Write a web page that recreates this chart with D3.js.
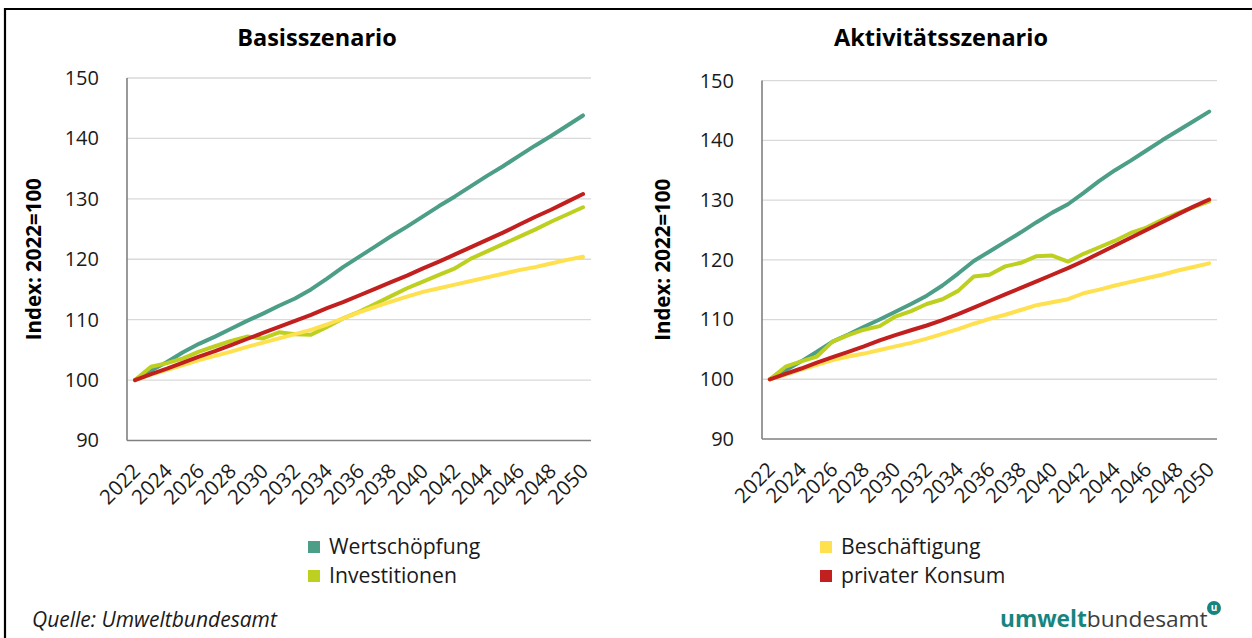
<!DOCTYPE html>
<html>
<head>
<meta charset="utf-8">
<script src="https://cdn.jsdelivr.net/npm/d3@7"></script>
<style>
  html, body { margin: 0; padding: 0; background: #fff; }
  svg { display: block; font-family: "Open Sans", "Noto Sans", sans-serif; }
</style>
</head>
<body>
<svg id="chart" width="1252" height="638"></svg>
<script>
// ---------------- DATA ----------------
const years = ["2022","2023","2024","2025","2026","2027","2028","2029","2030","2031","2032","2033","2034","2035","2036","2037","2038","2039","2040","2041","2042","2043","2044","2045","2046","2047","2048","2049","2050"];
const xTickLabels = ["2022","2024","2026","2028","2030","2032","2034","2036","2038","2040","2042","2044","2046","2048","2050"];
const yTicks = [90, 100, 110, 120, 130, 140, 150];

const seriesNames = ["Wertschöpfung", "Investitionen", "Beschäftigung", "privater Konsum"];
const seriesColors = ["#4c9e87", "#bdd01f", "#ffe04e", "#c2201f"];

// Basisszenario
const basisWertschoepfung = [100,101.6,103.0,104.6,106.0,107.2,108.5,109.8,111.0,112.3,113.5,115.0,116.8,118.7,120.4,122.1,123.8,125.4,127.1,128.8,130.4,132.1,133.8,135.4,137.1,138.8,140.4,142.1,143.8];
const basisInvestitionen  = [100,102.2,102.8,103.6,104.7,105.6,106.5,107.2,106.9,107.9,107.6,107.5,108.8,110.2,111.3,112.6,113.9,115.2,116.3,117.4,118.5,120.1,121.3,122.5,123.7,124.9,126.2,127.4,128.6];
const basisBeschaeftigung = [100,100.9,101.7,102.5,103.3,104.0,104.7,105.5,106.2,106.9,107.6,108.3,109.2,110.2,111.2,112.1,113.0,113.8,114.6,115.2,115.8,116.4,117.0,117.6,118.2,118.7,119.3,119.9,120.4];
const basisKonsum         = [100,101.0,101.9,102.9,103.9,104.8,105.8,106.8,107.8,108.8,109.8,110.8,111.9,112.9,114.0,115.1,116.2,117.3,118.5,119.6,120.8,122.0,123.2,124.4,125.7,127.0,128.2,129.5,130.8];

// Aktivitätsszenario
const aktivWertschoepfung = [100,101.5,103.0,104.6,106.3,107.5,108.8,110.0,111.3,112.6,114.0,115.7,117.7,119.8,121.4,123.0,124.6,126.3,127.9,129.3,131.2,133.2,135.0,136.6,138.3,140.0,141.6,143.2,144.8];
const aktivInvestitionen  = [100,102.1,103.0,103.8,106.3,107.4,108.3,108.9,110.5,111.4,112.6,113.4,114.8,117.2,117.5,118.9,119.5,120.6,120.7,119.7,121.0,122.1,123.2,124.5,125.4,126.7,127.8,128.8,129.8];
const aktivBeschaeftigung = [100,100.8,101.6,102.4,103.2,103.8,104.3,104.9,105.5,106.1,106.8,107.6,108.4,109.3,110.1,110.8,111.6,112.4,112.9,113.4,114.4,115.0,115.7,116.3,116.9,117.5,118.2,118.8,119.4];
const aktivKonsum         = [100,100.9,101.8,102.8,103.7,104.6,105.5,106.5,107.4,108.2,109.0,109.9,110.9,112.0,113.1,114.2,115.3,116.4,117.5,118.6,119.8,121.1,122.4,123.7,125.0,126.3,127.6,128.9,130.1];

const panels = [
  { title: "Basisszenario", series: [basisWertschoepfung, basisInvestitionen, basisBeschaeftigung, basisKonsum],
    x0: 127, x1: 591, yTop: 78, yBottom: 440.5, titleX: 317, axisTitleX: 34 },
  { title: "Aktivitätsszenario", series: [aktivWertschoepfung, aktivInvestitionen, aktivBeschaeftigung, aktivKonsum],
    x0: 762, x1: 1217, yTop: 80.6, yBottom: 439, titleX: 941, axisTitleX: 663 }
];

// ---------------- DRAW ----------------
const svg = d3.select("#chart");

// frame
svg.append("path")
  .attr("d", "M5,640 L5,9 L1254,9")
  .attr("fill", "none").attr("stroke", "#000").attr("stroke-width", 2.2);

panels.forEach(p => {
  const g = svg.append("g");
  const x = d3.scaleBand().domain(years).range([p.x0, p.x1]).padding(0);
  const y = d3.scaleLinear().domain([90, 150]).range([p.yBottom, p.yTop]);
  const cx = d => x(d) + x.bandwidth() / 2;

  // title
  g.append("text").attr("x", p.titleX).attr("y", 46)
    .attr("text-anchor", "middle").attr("font-weight", 700).attr("font-size", 23.5)
    .attr("fill", "#000").text(p.title);

  // gridlines
  g.selectAll(".grid").data(yTicks.filter(t => t > 90)).enter().append("line")
    .attr("x1", p.x0).attr("x2", p.x1)
    .attr("y1", d => y(d)).attr("y2", d => y(d))
    .attr("stroke", "#d9d9d9").attr("stroke-width", 1.3);

  // y axis
  const yAxis = d3.axisLeft(y).tickValues(yTicks).tickSize(0).tickPadding(28);
  const ya = g.append("g").attr("transform", `translate(${p.x0},0)`).call(yAxis);
  ya.select(".domain").remove();
  ya.selectAll("text").attr("font-size", 20).attr("fill", "#1a1a1a")
    .attr("font-family", "'Open Sans', sans-serif");

  // x axis
  const xAxis = d3.axisBottom(x).tickValues(xTickLabels).tickSize(0);
  const xa = g.append("g").attr("transform", `translate(0,${p.yBottom})`).call(xAxis);
  xa.select(".domain").remove();
  xa.selectAll("text")
    .attr("font-size", 20.5).attr("fill", "#1a1a1a")
    .attr("font-family", "'Open Sans', sans-serif")
    .attr("text-anchor", "end")
    .attr("dy", null).attr("y", 0)
    .attr("transform", "translate(6.5,32) rotate(-45)");

  // axis lines
  g.append("line").attr("x1", p.x0).attr("x2", p.x0).attr("y1", p.yTop).attr("y2", p.yBottom)
    .attr("stroke", "#808080").attr("stroke-width", 1.6);
  g.append("line").attr("x1", p.x0).attr("x2", p.x1).attr("y1", p.yBottom).attr("y2", p.yBottom)
    .attr("stroke", "#808080").attr("stroke-width", 1.6);

  // axis title
  g.append("text")
    .attr("transform", `translate(${p.axisTitleX},${(p.yTop + p.yBottom) / 2}) rotate(-90)`)
    .attr("text-anchor", "middle").attr("dy", "0.35em")
    .attr("font-weight", 700).attr("font-size", 20.5).attr("fill", "#000")
    .text("Index: 2022=100");

  // lines
  const line = d3.line().x((d, i) => cx(years[i])).y(d => y(d));
  p.series.forEach((s, k) => {
    g.append("path").datum(s).attr("d", line)
      .attr("fill", "none").attr("stroke", seriesColors[k])
      .attr("stroke-width", 4).attr("stroke-linejoin", "round").attr("stroke-linecap", "round");
  });
});

// legend
const legendPos = [[308, 547], [308, 576], [820, 547], [820, 576]];
seriesNames.forEach((name, k) => {
  const [lx, ly] = legendPos[k];
  svg.append("rect").attr("x", lx).attr("y", ly - 6).attr("width", 12).attr("height", 12)
    .attr("fill", seriesColors[k]);
  svg.append("text").attr("x", lx + 21).attr("y", ly).attr("dy", "0.35em")
    .attr("font-size", 21.2).attr("fill", "#1a1a1a").text(name);
});

// source
svg.append("text").attr("x", 32).attr("y", 620).attr("dy", "0.35em")
  .attr("font-size", 21).attr("font-style", "italic").attr("fill", "#1a1a1a")
  .text("Quelle: Umweltbundesamt");

// logo
const logo = svg.append("text").attr("x", 1000).attr("y", 627).attr("font-size", 22.7);
logo.append("tspan").attr("font-weight", 700).attr("fill", "#17857f").text("umwelt");
logo.append("tspan").attr("font-weight", 400).attr("fill", "#3c3c3c").text("bundesamt");
svg.append("circle").attr("cx", 1214).attr("cy", 608).attr("r", 7).attr("fill", "#17857f");
svg.append("text").attr("x", 1214).attr("y", 608).attr("dy", "0.32em").attr("text-anchor", "middle")
  .attr("font-size", 10).attr("font-weight", 700).attr("fill", "#fff").text("u");
</script>
</body>
</html>
